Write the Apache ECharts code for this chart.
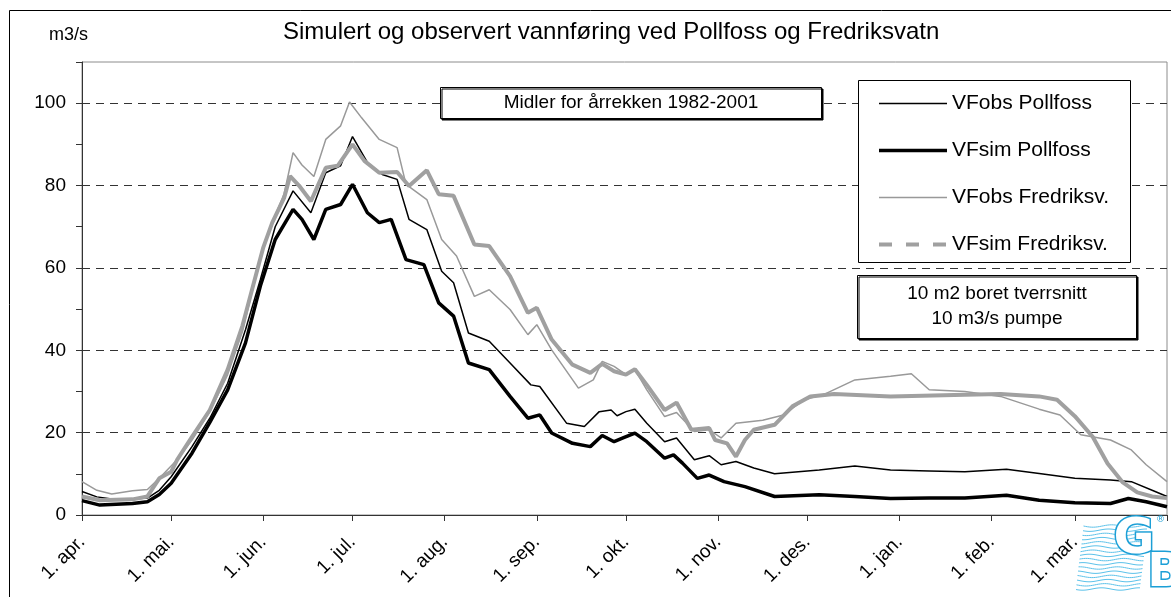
<!DOCTYPE html>
<html>
<head>
<meta charset="utf-8">
<script src="https://cdn.jsdelivr.net/npm/echarts@6/dist/echarts.min.js"></script>
<style>
  html, body { margin: 0; padding: 0; background: #fff; }
  #chart { width: 1171px; height: 597px; }
</style>
</head>
<body>
<div id="chart"></div>
<script>
// Vannføring Pollfoss / Fredriksvatn, dag nr. regnet fra 1. april
const FONT = 'Liberation Sans';

// månedsstart (dager etter 1. apr.) og etiketter
const monthDays = [0, 30, 61, 91, 122, 153, 183, 214, 244, 275, 306, 334, 365];
const monthLabels = ['1. apr.', '1. mai.', '1. jun.', '1. jul.', '1. aug.', '1. sep.',
  '1. okt.', '1. nov.', '1. des.', '1. jan.', '1. feb.', '1. mar.'];

// [dag, m3/s]
const obsPollfoss = [
  [0, 5.7], [5, 4.4], [10, 3.9], [17, 3.9], [22, 4.1], [26, 6.0], [30, 9.3], [37, 16.6],
  [43, 23.5], [49, 32], [55, 45], [60, 57.2], [65, 70], [71, 78.7], [77, 73.4], [82, 83.1],
  [87, 84.8], [91, 91.9], [96, 85.6], [101, 82.7], [106, 81.5], [110, 71.8], [116, 69.3],
  [121, 59.2], [125, 56.4], [130, 44.2], [137, 42.2], [144, 36.9], [151, 31.6], [154, 31.2],
  [163, 22.3], [169, 21.5], [174, 25.1], [178, 25.5], [180, 24.1], [183, 25.1], [186, 25.7],
  [190, 22.3], [196, 17.8], [200, 18.7], [206, 13.4], [211, 14.4], [215, 12.2], [220, 13],
  [226, 11.4], [233, 10], [248, 10.9], [260, 11.9], [272, 10.9], [285, 10.7], [297, 10.5],
  [311, 11.1], [322, 10.1], [334, 8.9], [346, 8.5], [353, 8.1], [361, 5.7], [365, 4.5]
];
const simPollfoss = [
  [0, 3.5], [6, 2.4], [17, 2.8], [22, 3.2], [26, 5.0], [30, 7.7], [37, 15], [43, 22.5],
  [49, 30.4], [55, 41.8], [60, 55.6], [65, 66.9], [71, 74.2], [74, 71.8], [78, 66.9],
  [82, 74.2], [87, 75.4], [91, 80.3], [96, 73.4], [100, 71], [104, 71.8], [109, 62],
  [115, 60.8], [120, 51.5], [125, 48.3], [130, 36.9], [137, 35.3], [144, 28.8], [150, 23.5],
  [154, 24.3], [158, 19.9], [165, 17.4], [171, 16.6], [175, 19.3], [179, 17.8], [182, 18.7],
  [186, 19.9], [190, 17.8], [196, 13.8], [199, 14.6], [202, 12.6], [207, 8.9], [211, 9.7],
  [216, 8.1], [223, 6.9], [233, 4.5], [248, 4.9], [260, 4.5], [272, 4.0], [285, 4.1],
  [297, 4.1], [311, 4.8], [322, 3.6], [334, 3.0], [346, 2.8], [352, 4.0], [358, 3.2], [365, 2.0]
];
const obsFredriksv = [
  [0, 8.1], [5, 6.0], [10, 5.1], [17, 5.9], [22, 6.2], [26, 8.9], [32, 13.4], [37, 18.2],
  [43, 25.1], [49, 34.1], [54, 44.6], [59, 59.6], [61, 65.1], [64, 71], [68, 78], [71, 88],
  [74, 85], [78, 82.2], [82, 91.2], [87, 94.5], [90, 100.3], [94, 96.5], [100, 91.2],
  [106, 89.2], [109, 80.3], [116, 76.6], [121, 66.9], [126, 62.9], [132, 53.1], [137, 54.7],
  [144, 49.9], [150, 43.8], [153, 46.2], [158, 40.1], [167, 30.8], [172, 32.8], [175, 37.3],
  [179, 36.1], [183, 34.1], [186, 35.3], [190, 30.4], [196, 23.9], [200, 24.9], [206, 20.3],
  [211, 20.7], [215, 18.7], [220, 22.3], [229, 23], [236, 24.3], [243, 28], [250, 29.4],
  [260, 32.8], [272, 33.7], [279, 34.3], [285, 30.4], [297, 30], [309, 28.8], [322, 25.7],
  [329, 24.3], [336, 19.5], [346, 18.2], [353, 15.8], [358, 12.2], [365, 8.1]
];
const simFredriksv = [
  [0, 4.5], [6, 3.6], [17, 3.8], [22, 4.5], [26, 8.9], [30, 10.5], [32, 13.4], [37, 19],
  [43, 25.5], [49, 35.3], [54, 46], [59, 59.6], [61, 65], [64, 71], [68, 77], [70, 82.3],
  [73, 80], [77, 76.2], [82, 84.3], [86, 84.8], [91, 90], [95, 86], [100, 83.1], [106, 83.3],
  [110, 79.9], [116, 83.7], [120, 77.9], [125, 77.5], [132, 65.7], [137, 65.3], [144, 58],
  [150, 49.1], [153, 50.3], [158, 42.6], [165, 36.5], [171, 34.5], [175, 36.7], [179, 34.9],
  [183, 34.1], [186, 35.4], [190, 31.6], [196, 25.5], [200, 27.3], [205, 20.7], [211, 21.1],
  [213, 18.2], [217, 17.4], [220, 14.2], [223, 18.2], [226, 20.7], [233, 21.9], [239, 26.4],
  [245, 28.8], [253, 29.4], [272, 28.8], [297, 29.2], [309, 29.4], [322, 28.8], [328, 28],
  [334, 24], [340, 19], [345, 12.5], [350, 8], [355, 5.5], [360, 4.5], [365, 4.1]
];

const seriesNames = ['VFobs Pollfoss', 'VFsim Pollfoss', 'VFobs Fredriksv.', 'VFsim Fredriksv.'];
const lineStyles = [
  { color: '#000', width: 1.5 },
  { color: '#000', width: 3.5 },
  { color: '#999', width: 1.5 },
  { color: '#a0a0a0', width: 4 }
];

// GLB-logo nede til høyre (bølgestreker + bokstaver)
function logoGraphic() {
  const items = [];
  for (let i = 0; i < 16; i++) {
    const y0 = 526 + i * 4.2;
    const pts = [];
    for (let x = 0; x <= 64; x += 2) {
      pts.push([1076 + x + (15 - i) * 0.5, y0 + Math.sin(x / 6 + i * 0.45) * 1.2]);
    }
    items.push({
      type: 'polyline', z: 5, silent: true,
      shape: { points: pts },
      style: { stroke: '#5cc2ea', lineWidth: 1, fill: null }
    });
  }
  items.push({
    type: 'text', z: 6, left: 1112, top: 514,
    style: { text: 'G', font: 'bold 50px "DejaVu Sans"', fill: '#fff', stroke: '#1c9fd6', lineWidth: 3 }
  });
  items.push({
    type: 'text', z: 6, left: 1146, top: 550,
    style: { text: 'B', font: 'bold 46px "DejaVu Sans"', fill: '#fff', stroke: '#1c9fd6', lineWidth: 3 }
  });
  items.push({
    type: 'text', z: 6, left: 1156, top: 515,
    style: { text: '®', font: '9px "DejaVu Sans"', fill: '#1c9fd6' }
  });
  return items;
}

const chart = echarts.init(document.getElementById('chart'), null, { renderer: 'canvas' });

chart.setOption({
  animation: false,
  backgroundColor: '#fff',
  title: {
    text: 'Simulert og observert vannføring ved Pollfoss og Fredriksvatn',
    left: 283,
    top: 20,
    padding: 0,
    textStyle: { fontFamily: FONT, fontSize: 24, fontWeight: 'normal', color: '#000' }
  },
  grid: {
    left: 82, right: 4, top: 62, bottom: 82,
    outerBoundsMode: 'none',
    show: true,
    borderColor: '#8c8c8c',
    borderWidth: 1,
    backgroundColor: 'transparent'
  },
  legend: {
    orient: 'vertical',
    left: 877,
    top: 93,
    padding: 0,
    itemWidth: 68,
    itemHeight: 20,
    itemGap: 26,
    selectedMode: false,
    textStyle: { fontFamily: FONT, fontSize: 21, color: '#000' },
    data: seriesNames.map((name, i) => ({
      name: name,
      itemStyle: { opacity: 0 },
      lineStyle: i === 3
        ? { color: lineStyles[i].color, width: 4, type: [13, 14] }
        : { color: lineStyles[i].color, width: lineStyles[i].width, type: 'solid' }
    }))
  },
  xAxis: {
    type: 'value',
    min: 0,
    max: 365,
    axisLine: { lineStyle: { color: '#333', width: 1 } },
    axisTick: { show: true, customValues: monthDays, length: 6, lineStyle: { color: '#333' } },
    axisLabel: {
      customValues: monthDays.slice(0, 12),
      formatter: v => monthLabels[monthDays.indexOf(v)],
      rotate: 45,
      margin: 24,
      fontFamily: FONT,
      fontSize: 19,
      color: '#000'
    },
    splitLine: { show: false }
  },
  yAxis: [
    {
      type: 'value',
      min: 0,
      max: 110,
      interval: 20,
      axisLine: { show: true, lineStyle: { color: '#333', width: 1 } },
      axisTick: { show: false },
      axisLabel: {
        formatter: v => (v <= 100 ? String(v) : ''),
        margin: 16,
        fontFamily: FONT,
        fontSize: 19,
        color: '#000'
      },
      splitLine: {
        show: true,
        showMinLine: false,
        showMaxLine: false,
        lineStyle: { color: '#333', width: 1, type: [8, 6] }
      }
    },
    {
      // bare tikkmerker for hver 10 m3/s
      type: 'value',
      position: 'left',
      min: 0,
      max: 110,
      interval: 10,
      axisLine: { show: false },
      axisTick: { show: true, length: 6, lineStyle: { color: '#333' } },
      axisLabel: { show: false },
      splitLine: { show: false }
    }
  ],
  series: [obsPollfoss, simPollfoss, obsFredriksv, simFredriksv].map((data, i) => ({
    name: seriesNames[i],
    type: 'line',
    data: data,
    symbol: 'none',
    silent: true,
    lineStyle: lineStyles[i],
    itemStyle: { color: lineStyles[i].color },
    z: 3
  })),
  graphic: [
    // ytre ramme
    {
      type: 'rect', z: 1, silent: true,
      shape: { x: 9.5, y: 10.5, width: 1175, height: 600 },
      style: { fill: null, stroke: '#000', lineWidth: 1 }
    },
    {
      type: 'text', left: 49, top: 26,
      style: { text: 'm3/s', font: '18px "Liberation Sans"', fill: '#000' }
    },
    // tekstboks: Midler for årrekken
    {
      type: 'rect', z: 4, silent: true,
      shape: { x: 440.5, y: 87.5, width: 381, height: 31 },
      style: { fill: '#fff', stroke: '#000', lineWidth: 1, shadowColor: '#000', shadowOffsetX: 1.5, shadowOffsetY: 1.5, shadowBlur: 0 }
    },
    {
      type: 'text', z: 5, x: 631, y: 103,
      style: {
        text: 'Midler for årrekken 1982-2001', font: '19px "Liberation Sans"', fill: '#000',
        textAlign: 'center', textVerticalAlign: 'middle'
      }
    },
    // ramme rundt tegnforklaringen
    {
      type: 'rect', z: 3, silent: true,
      shape: { x: 858.5, y: 80.5, width: 272, height: 182 },
      style: { fill: '#fff', stroke: '#000', lineWidth: 1 }
    },
    // tekstboks: tverrsnitt / pumpe
    {
      type: 'rect', z: 4, silent: true,
      shape: { x: 857.5, y: 275.5, width: 279, height: 63 },
      style: { fill: '#fff', stroke: '#000', lineWidth: 1, shadowColor: '#000', shadowOffsetX: 1.5, shadowOffsetY: 1.5, shadowBlur: 0 }
    },
    {
      type: 'text', z: 5, x: 997, y: 306,
      style: {
        text: '10 m2 boret tverrsnitt\n10 m3/s pumpe', font: '19px "Liberation Sans"', fill: '#000',
        textAlign: 'center', textVerticalAlign: 'middle', lineHeight: 25
      }
    }
  ].concat(logoGraphic())
});

window.addEventListener('resize', () => chart.resize());
</script>
</body>
</html>
